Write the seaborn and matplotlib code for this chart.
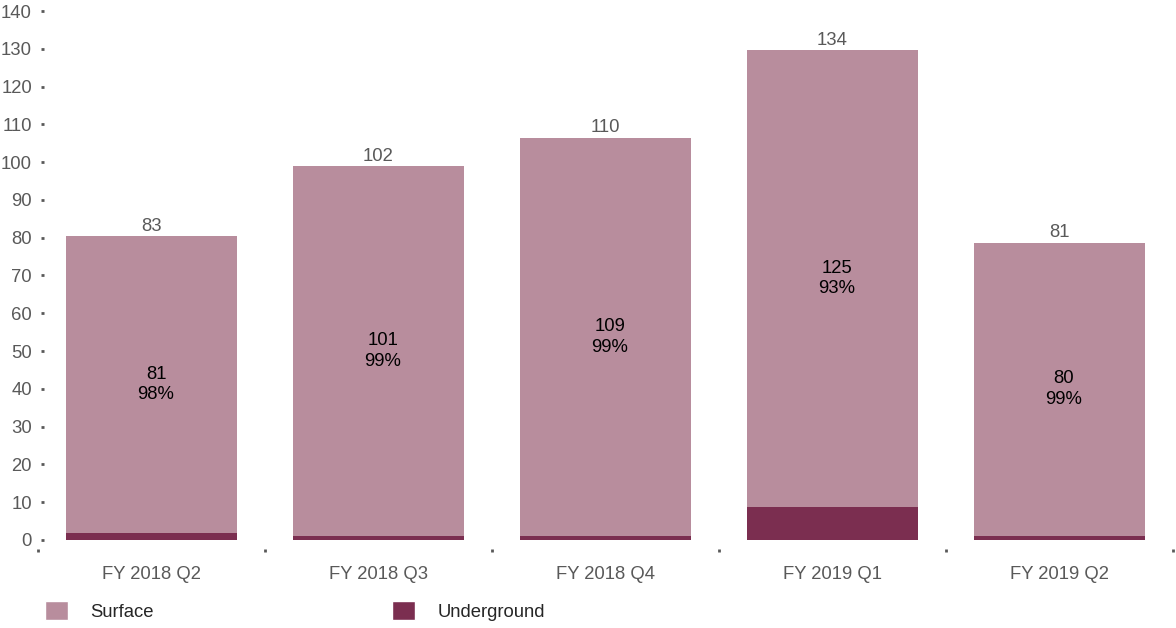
import matplotlib
matplotlib.use("Agg")
import matplotlib.pyplot as plt
import seaborn as sns
import pandas as pd
from matplotlib.patches import Patch
from matplotlib.ticker import FixedLocator

# values as the bars are drawn in the picture (the axis runs a bit short of the labels)
quarters = ["FY 2018 Q2", "FY 2018 Q3", "FY 2018 Q4", "FY 2019 Q1", "FY 2019 Q2"]
total_height = [80.4, 98.9, 106.5, 129.6, 78.7]
underground_height = [1.9, 1.1, 1.1, 8.8, 1.1]
surface_height = [78.5, 97.8, 105.4, 120.8, 77.6]

# text printed on the chart
total_labels = ["83", "102", "110", "134", "81"]
surface_labels = ["81\n98%", "101\n99%", "109\n99%", "125\n93%", "80\n99%"]

surface_col = "#b88d9d"
under_col = "#7b2e50"
grey = "#595959"
fs = 13.3

df = pd.DataFrame({"quarter": quarters, "total": total_height,
                   "underground": underground_height, "surface": surface_height})

sns.set_style("white")
plt.rcParams["font.family"] = ["Liberation Sans", "DejaVu Sans"]

fig = plt.figure(figsize=(11.76, 6.28), dpi=100)
ax = fig.add_axes([38 / 1176, 79 / 628, 1135 / 1176, 538 / 628])

sns.barplot(data=df, x="quarter", y="total", order=quarters, color=surface_col,
            width=0.755, saturation=1, linewidth=0, ax=ax)
sns.barplot(data=df, x="quarter", y="underground", order=quarters, color=under_col,
            width=0.755, saturation=1, linewidth=0, ax=ax)

for i in range(len(quarters)):
    ax.text(i, total_height[i] + 0.4, total_labels[i], ha="center", va="bottom",
            fontsize=fs, color=grey)
    mid = underground_height[i] + surface_height[i] / 2
    ax.text(i + 0.02, mid, surface_labels[i], ha="center", va="center", fontsize=fs,
            color="black", multialignment="center", linespacing=1.3)

ax.set_xlim(-0.5, 4.5)
ax.set_ylim(-2.4, 140)
ax.set_yticks(range(0, 141, 10))
ax.spines["left"].set_position(("outward", -4.6))
ax.tick_params(axis="y", left=True, length=2, width=2, color=grey, labelcolor=grey,
               labelsize=fs, pad=7, direction="out")
ax.xaxis.set_minor_locator(FixedLocator([-0.5, 0.5, 1.5, 2.5, 3.5, 4.5]))
ax.tick_params(axis="x", which="major", bottom=False, length=0, labelcolor=grey,
               labelsize=fs, pad=12)
ax.tick_params(axis="x", which="minor", bottom=True, length=2, width=2, color=grey,
               direction="out")
ax.set_xlabel("")
ax.set_ylabel("")
for s in ax.spines.values():
    s.set_visible(False)

handles = [Patch(facecolor=surface_col, label="Surface"),
           Patch(facecolor=under_col, label="Underground")]
fig.legend(handles=handles, loc="center left", bbox_to_anchor=(38 / 1176, 17 / 628),
           ncol=2, frameon=False, fontsize=fs, handlelength=1.2, handleheight=1.2,
           handletextpad=1.25, columnspacing=12.9, borderaxespad=0)

fig.savefig("out.png", dpi=100)
